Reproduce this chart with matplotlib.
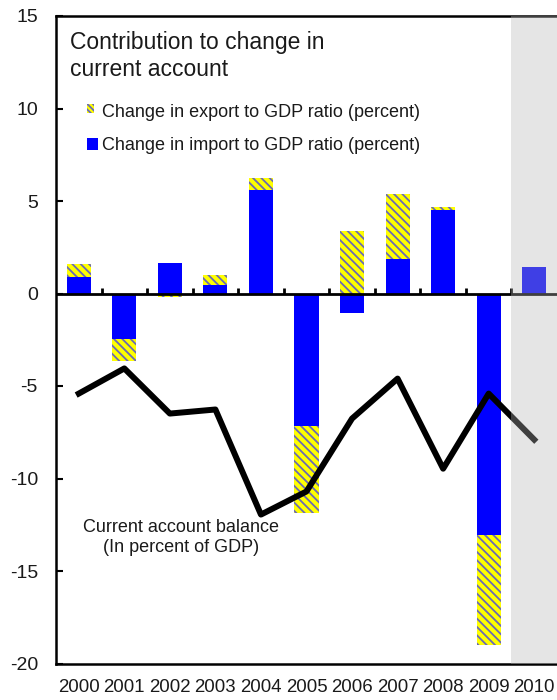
import numpy as np
import matplotlib
matplotlib.use('Agg')
import matplotlib.pyplot as plt
from matplotlib.patches import Rectangle

plt.rcParams['font.family'] = ['Liberation Sans', 'DejaVu Sans']
plt.rcParams['hatch.linewidth'] = 1.3

# data
years = ['2000', '2001', '2002', '2003', '2004', '2005', '2006', '2007', '2008', '2009', '2010']
import_chg = [0.88, -2.47, 1.64, 0.45, 5.62, -7.14, -1.06, 1.84, 4.54, -13.03, 1.44]
export_chg = [0.74, -1.19, -0.20, 0.54, 0.65, -4.73, 3.37, 3.55, 0.11, -5.97, 0.0]
ca_balance = [-5.41, -4.05, -6.49, -6.27, -11.95, -10.7, -6.76, -4.6, -9.47, -5.41, -7.9]
yticks = [15, 10, 5, 0, -5, -10, -15, -20]

txt = '#1a1a1a'
blue = '#0000ff'
yellow = '#ffff00'
stripe = '#6a6ab4'
hatch = '\\\\\\\\'

x = np.arange(len(years))
imp = np.array(import_chg)
exp_ = np.array(export_chg)
# excel-style stacking: positives on positives, negatives on negatives
exp_bottom = np.where(np.sign(exp_) == np.sign(imp), imp, 0.0)

fig = plt.figure(figsize=(5.57, 7.0), dpi=100)
ax = fig.add_axes([56 / 557, 1 - 663.5 / 700, 501 / 557, (663.5 - 16) / 700])

w = 0.53
ax.bar(x, imp, width=w, color=blue, linewidth=0, zorder=2)
ax.bar(x, exp_, width=w, bottom=exp_bottom, color=yellow, edgecolor=stripe,
       hatch=hatch, linewidth=0, zorder=2)

ax.plot(x, ca_balance, color='black', linewidth=4.3, zorder=3)

# zero line with small upward ticks between categories
ax.axhline(0, color='black', linewidth=2, zorder=2.6)
ax.vlines(x[:-1] + 0.5, 0, 0.32, color='black', linewidth=2, zorder=2.6)

# shaded projection year
ax.axvspan(9.5, 10.6, color='#b5b5b5', alpha=0.35, linewidth=0, zorder=5)

ax.set_xlim(-0.5, 10.5)
ax.set_ylim(-20, 15)
ax.set_yticks(yticks)
ax.set_yticklabels([str(t) for t in yticks])
ax.set_xticks(x)
ax.set_xticklabels(years)
ax.tick_params(axis='y', direction='in', length=5, width=1.5, pad=13,
               labelsize=14, labelcolor=txt, color='black')
ax.tick_params(axis='x', length=0, pad=11, labelsize=13.4, labelcolor=txt)

for s in ['left', 'bottom', 'top']:
    ax.spines[s].set_linewidth(1.8)
    ax.spines[s].set_color('black')
ax.spines['right'].set_visible(False)

# title inside the plot
fig.text(70 / 557, 1 - 43 / 700, 'Contribution to change in', fontsize=16.5,
         color=txt, va='center', ha='left')
fig.text(70 / 557, 1 - 70 / 700, 'current account', fontsize=16.5,
         color=txt, va='center', ha='left')

# legend
fig.patches.append(Rectangle((86.5 / 557, 1 - 113 / 700), 7 / 557, 9.5 / 700,
                             transform=fig.transFigure, facecolor=yellow,
                             edgecolor=stripe, hatch='\\\\\\\\\\\\', linewidth=0))
fig.text(102 / 557, 1 - 112.5 / 700, 'Change in export to GDP ratio (percent)',
         fontsize=13, color=txt, va='center', ha='left')
fig.patches.append(Rectangle((86.5 / 557, 1 - 150 / 700), 11.5 / 557, 12 / 700,
                             transform=fig.transFigure, facecolor=blue,
                             linewidth=0))
fig.text(102 / 557, 1 - 145 / 700, 'Change in import to GDP ratio (percent)',
         fontsize=13, color=txt, va='center', ha='left')

# line label
fig.text(181 / 557, 1 - 528 / 700, 'Current account balance', fontsize=13,
         color=txt, va='center', ha='center')
fig.text(181 / 557, 1 - 548 / 700, '(In percent of GDP)', fontsize=13,
         color=txt, va='center', ha='center')

fig.savefig('out.png', dpi=100)
